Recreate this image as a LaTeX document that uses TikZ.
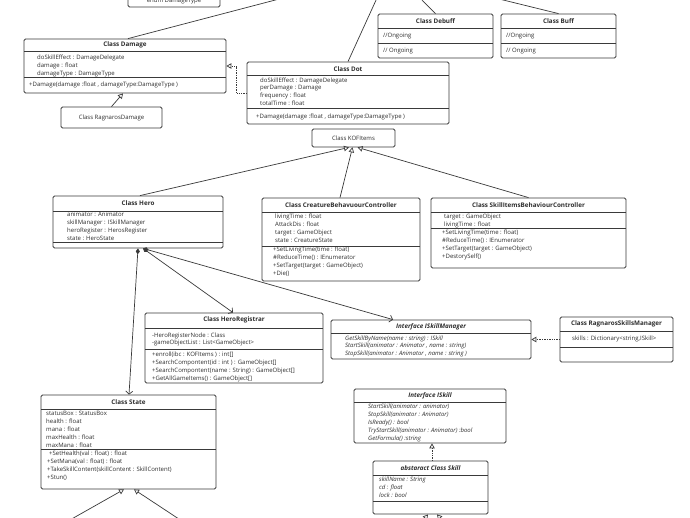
\documentclass[tikz,border=0pt]{standalone}
\usepackage{fontspec}
\setmainfont{Open Sans}
\usetikzlibrary{arrows.meta}

\definecolor{umlline}{HTML}{3A3A3A}
\definecolor{umltext}{HTML}{2E2E2E}

\tikzset{
  umlbox/.style={draw=umlline, line width=0.8pt, rounded corners=1.5pt, inner sep=0pt, fill=white},
  sep/.style={draw=umlline, line width=0.6pt},
  title/.style={font=\fontsize{6.3}{7}\selectfont\bfseries, text=umltext, inner sep=0pt},
  plain/.style={font=\fontsize{6}{7}\selectfont, text=umltext, inner sep=0pt},
  member/.style={plain, anchor=west, text height=4.5pt, text depth=1.3pt},
  link/.style={draw=umlline, line width=0.7pt},
  inherit/.style={link, -{Triangle[open, length=5pt, width=5.5pt]}},
  realize/.style={inherit, densely dotted},
  assoc/.style={link, {Diamond[length=6pt, width=4pt]}-{Straight Barb[length=3pt, width=7pt]}},
}

\begin{document}
\begin{tikzpicture}[x=1pt, y=-1pt]
  \useasboundingbox (0,0) rectangle (690,518);
  \fill[white] (0,0) rectangle (690,518);
  \clip (0,0) rectangle (690,518);

  % targets out of the picture
  \coordinate (damage-up) at (283,-2);
  \coordinate (dot-up) at (377,-2);
  \coordinate (debuff-up) at (420,-2);
  \coordinate (buff-up) at (495,-2);
  \coordinate (state-l) at (61,525);
  \coordinate (state-r) at (188,525);
  \coordinate (skill-l) at (418,527);
  \coordinate (skill-r) at (448,527);

  % enum DamageType (cut at the top)
  \node[umlbox, minimum width=92pt, minimum height=19pt] (enum) at (174,-2.5) {};
  \node[plain] (enum-t) at (174,1) {enum DamageType};

  % Class Damage
  \node[umlbox, minimum width=202pt, minimum height=54pt] (damage) at (125,66) {};
  \node[title] (damage-t) at (125,45) {Class Damage};
  \draw[sep] (24,51) -- (226,51);
  \draw[sep, line width=1pt] (24,78) -- (226,78);
  \foreach \m [count=\i from 0] in {{doSkillEffect : DamageDelegate},{damage : float},{damageType : DamageType}}
    \node[member] (damage-a\i) at (37,58+8*\i) {\m};
  \node[member] (damage-m0) at (29,85) {+Damage(damage :float , damageType:DamageType )};

  % Class RagnarosDamage
  \node[umlbox, minimum width=101pt, minimum height=21pt] (ragdmg) at (111.5,117.5) {};
  \node[plain] (ragdmg-t) at (111.5,117.5) {Class RagnarosDamage};

  % Class Dot
  \node[umlbox, minimum width=202pt, minimum height=62pt] (dot) at (348,93) {};
  \node[title] (dot-t) at (348,69) {Class Dot};
  \draw[sep] (247,75) -- (449,75);
  \draw[sep, line width=1pt] (247,109) -- (449,109);
  \foreach \m [count=\i from 0] in {{doSkillEffect : DamageDelegate},{perDamage : Damage},{frequency : float},{totalTime : float}}
    \node[member] (dot-a\i) at (260,80.5+7.9*\i) {\m};
  \node[member] (dot-m0) at (256,117) {+Damage(damage :float , damageType:DamageType )};

  % Class Debuff, Class Buff
  \node[umlbox, minimum width=115pt, minimum height=44pt] (debuff) at (435.5,36) {};
  \node[title] (debuff-t) at (435.5,21) {Class Debuff};
  \draw[sep] (378,28) -- (493,28);
  \draw[sep] (378,43) -- (493,43);
  \node[member] (debuff-a0) at (383,36) {//Ongoing};
  \node[member] (debuff-m0) at (383,51) {// Ongoing};

  \node[umlbox, minimum width=115pt, minimum height=44pt] (buff) at (558.5,36) {};
  \node[title] (buff-t) at (558.5,21) {Class Buff};
  \draw[sep] (501,28) -- (616,28);
  \draw[sep] (501,43) -- (616,43);
  \node[member] (buff-a0) at (506,36) {//Ongoing};
  \node[member] (buff-m0) at (506,51) {// Ongoing};

  % Class KOFItems
  \node[umlbox, minimum width=83pt, minimum height=18pt] (kof) at (353.5,138) {};
  \node[plain] (kof-t) at (353.5,138) {Class KOFItems};

  % Class Hero
  \node[umlbox, minimum width=170pt, minimum height=52pt] (hero) at (138,222) {};
  \node[title] (hero-t) at (138,203) {Class Hero};
  \draw[sep] (53,211) -- (223,211);
  \draw[sep, line width=1pt] (53,243) -- (223,243);
  \foreach \m [count=\i from 0] in {{animator : Animator},{skillManager : ISkillManager},{heroRegister : HerosRegister},{state : HeroState}}
    \node[member] (hero-a\i) at (67,214.5+8.2*\i) {\m};

  % Class CreatureBehavuourController
  \node[umlbox, minimum width=158pt, minimum height=83pt] (creature) at (341,239.5) {};
  \node[title] (creature-t) at (341,205) {Class CreatureBehavuourController};
  \draw[sep] (262,212) -- (420,212);
  \draw[sep] (262,246) -- (420,246);
  \foreach \m [count=\i from 0] in {{livingTime : float},{AttackDis : float},{target : GameObject},{state : CreatureState}}
    \node[member] (creature-a\i) at (275,217+8*\i) {\m};
  \foreach \m [count=\i from 0] in {{+SetLivingTime(time : float)},{\#ReduceTime() : IEnumerator},{+SetTarget(target : GameObject)},{+Die()}}
    \node[member] (creature-m\i) at (273,250+8*\i) {\m};

  % Class SkillItemsBehaviourController
  \node[umlbox, minimum width=195pt, minimum height=70pt] (skillitems) at (528.5,233) {};
  \node[title] (skillitems-t) at (528.5,205) {Class SkillItemsBehaviourController};
  \draw[sep] (431,212) -- (626,212);
  \draw[sep] (431,228) -- (626,228);
  \foreach \m [count=\i from 0] in {{target : GameObject},{livingTime : float}}
    \node[member] (skillitems-a\i) at (444,216.5+8*\i) {\m};
  \foreach \m [count=\i from 0] in {{+SetLivingTime(time : float)},{\#ReduceTime() : IEnumerator},{+SetTarget(target : GameObject)},{+DestorySelf()}}
    \node[member] (skillitems-m\i) at (442,233+8*\i) {\m};

  % Class HeroRegistrar
  \node[umlbox, minimum width=178pt, minimum height=70pt] (registrar) at (234,348) {};
  \node[title] (registrar-t) at (234,320) {Class HeroRegistrar};
  \draw[sep] (145,328) -- (323,328);
  \draw[sep] (145,349) -- (323,349);
  \foreach \m [count=\i from 0] in {{-HeroRegisterNode : Class},{-gameObjectList : List<GameObject>}}
    \node[member] (registrar-a\i) at (152,335.5+7.5*\i) {\m};
  \foreach \m [count=\i from 0] in {{+enroll(ibc : KOFItems ) : int[]},{+SearchCompontent(id : int ) : GameObject[]},{+SearchCompontent(name : String) : GameObject[]},{+GetAllGameItems() : GameObject[]}}
    \node[member] (registrar-m\i) at (152,355+8*\i) {\m};

  % Interface ISkillManager
  \node[umlbox, minimum width=200pt, minimum height=39pt] (iskillmgr) at (431,339.5) {};
  \node[title, font=\fontsize{6.3}{7}\selectfont\bfseries\itshape] (iskillmgr-t) at (431,327) {Interface ISkillManager};
  \draw[sep] (331,333) -- (531,333);
  \foreach \m [count=\i from 0] in {{GetSkillByName(name : string) : ISkill},{StartSkill(animator : Animator , name : string)},{StopSkill(animator : Animator , name : string )}}
    \node[member, font=\fontsize{6}{7}\selectfont\itshape] (iskillmgr-m\i) at (345,338.5+7.8*\i) {\m};

  % Class RagnarosSkillsManager
  \node[umlbox, minimum width=113pt, minimum height=45pt] (ragsm) at (616.5,339.5) {};
  \node[title] (ragsm-t) at (616.5,324) {Class RagnarosSkillsManager};
  \draw[sep] (560,331) -- (673,331);
  \draw[sep] (560,347) -- (673,347);
  \node[member] (ragsm-a0) at (572,339) {skills : Dictionary<string,ISkill>};

  % Class State
  \node[umlbox, minimum width=175pt, minimum height=94pt] (state) at (128.5,442) {};
  \node[title] (state-t) at (128.5,402) {Class State};
  \draw[sep] (41,409) -- (216,409);
  \draw[sep, line width=1pt] (41,449) -- (216,449);
  \foreach \m [count=\i from 0] in {{statusBox : StatusBox},{health : float},{mana : float},{maxHealth : float},{maxMana : float}}
    \node[member] (state-a\i) at (46,414+8*\i) {\m};
  \node[member] (state-m0) at (49,454) {+SetHealth(val : float) : float};
  \foreach \m [count=\i from 1] in {{+SetMana(val : float) : float},{+TakeSkillContent(skillContent : SkillContent)},{+Stun()}}
    \node[member] (state-m\i) at (47,454+8*\i) {\m};

  % Interface ISkill
  \node[umlbox, minimum width=152pt, minimum height=54pt] (iskill) at (430,416) {};
  \node[title, font=\fontsize{6.3}{7}\selectfont\bfseries\itshape] (iskill-t) at (430,396) {Interface ISkill};
  \draw[sep] (354,402) -- (506,402);
  \foreach \m [count=\i from 0] in {{StartSkill(animator : animator)},{StopSkill(animator : Animator)},{IsReady() : bool},{TryStartSkill(animator : Animator) :bool},{GetFormula() :string}}
    \node[member, font=\fontsize{6}{7}\selectfont\itshape] (iskill-m\i) at (368,407+8*\i) {\m};

  % abstaract Class Skill
  \node[umlbox, minimum width=115pt, minimum height=53pt] (skill) at (430.5,487.5) {};
  \node[title, font=\fontsize{6.3}{7}\selectfont\bfseries\itshape] (skill-t) at (430.5,468.5) {abstaract Class Skill};
  \draw[sep] (373,475) -- (488,475);
  \draw[sep] (373,501) -- (488,501);
  \foreach \m [count=\i from 0] in {{skillName : String},{cd : float},{lock : bool}}
    \node[member, font=\fontsize{6}{7}\selectfont\itshape] (skill-a\i) at (379,479.5+8*\i) {\m};

  % Lines going out of the picture
  \draw[link] ([xshift=3pt]damage.north) -- (damage-up);
  \draw[link] (dot.north) -- (dot-up);
  \draw[link] (debuff.north) -- (debuff-up);
  \draw[link] (buff.north) -- (buff-up);

  % Generalization and realization
  \draw[inherit] (ragdmg.north) -- ([xshift=-2pt]damage.south);
  \draw[realize] (dot.west) -- ++(-10,0) |- (damage.east);
  \draw[inherit] ([xshift=2pt]hero.north) -- ([xshift=-4.5pt]kof.south);
  \draw[inherit] ([xshift=-1pt]creature.north) -- ([xshift=-1pt]kof.south);
  \draw[inherit] (skillitems.north) -- ([xshift=4pt]kof.south);
  \draw[realize] (ragsm.west) -- (iskillmgr.east);
  \draw[realize] ([xshift=1.5pt]skill.north) -- ([xshift=2pt]iskill.south);
  \draw[inherit] (state-l) -- ([xshift=-4.5pt]state.south);
  \draw[inherit] (state-r) -- ([xshift=5.5pt]state.south);
  \draw[inherit] (skill-l) -- ([xshift=-2.5pt]skill.south);
  \draw[inherit] (skill-r) -- ([xshift=6.5pt]skill.south);

  % Composition from Hero
  \draw[assoc] (hero.south) -- ([xshift=0.5pt]state.north);
  \draw[assoc] ([xshift=5pt]hero.south) -- ([xshift=-1pt]registrar.north);
  \draw[assoc] ([xshift=5pt]hero.south) -- ([xshift=-38pt]iskillmgr.north);

\end{tikzpicture}
\end{document}
